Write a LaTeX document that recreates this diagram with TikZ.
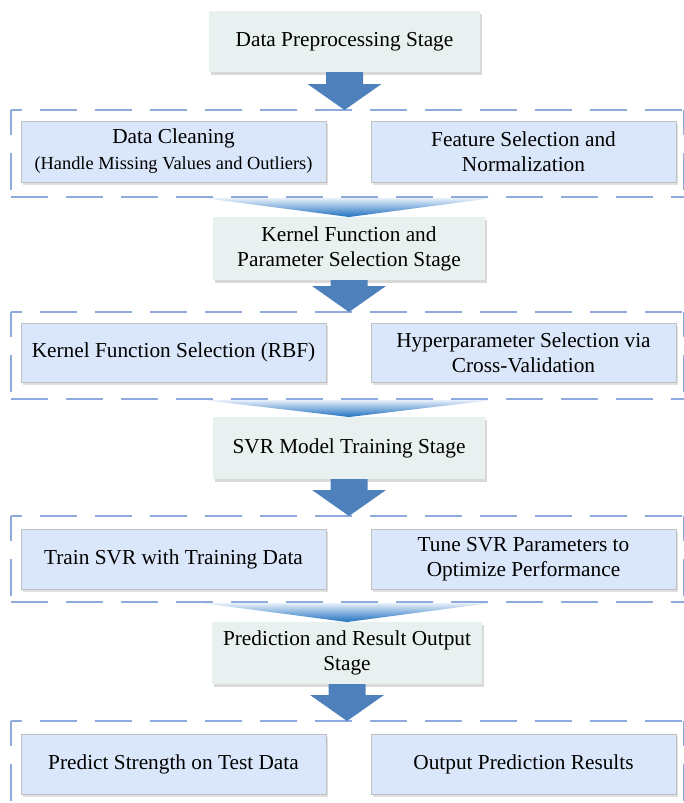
\documentclass[tikz,border=0pt]{standalone}
\usepackage{fontspec}
\setmainfont{Liberation Serif}
\usetikzlibrary{calc,shadows}
\definecolor{stagefill}{RGB}{232,241,239}
\definecolor{itemfill}{RGB}{218,230,250}
\definecolor{itemline}{RGB}{192,192,192}
\definecolor{dashblue}{RGB}{143,170,220}
\definecolor{arrowblue}{RGB}{78,129,187}
\definecolor{funneltop}{RGB}{232,240,250}
\definecolor{funnelmid}{RGB}{150,190,230}
\definecolor{funnelbot}{RGB}{30,112,192}
\newcommand\stagearrow[2]{%
  \fill[arrowblue] let \p1=(#1), \p2=(#2) in
    (\x1-18.5pt,\y1) -- (\x1+18.5pt,\y1) -- (\x1+18.5pt,\y2+26pt) -- (\x1+37pt,\y2+26pt)
    -- (\x1,\y2) -- (\x1-37pt,\y2+26pt) -- (\x1-18.5pt,\y2+26pt) -- cycle;}
\newcommand\stagefunnel[2]{%
  \shade[top color=funneltop, middle color=funnelmid, bottom color=funnelbot]
    let \p1=(#1), \p2=(#2) in
    (\x2-146pt,\y1-1pt) -- (\x2+144pt,\y1-1pt) -- (\p2) -- cycle;}
\newcommand\groupdashes[1]{%
  \draw[dashline, dash phase=26pt] (#1.north west) -- (#1.north east);
  \draw[dashline] (#1.south west) -- (#1.south east);
  \draw[dashline, dash phase=12pt] (#1.north west) -- (#1.south west);
  \draw[dashline, dash phase=12pt] (#1.north east) -- (#1.south east);}
\tikzset{
  mainfont/.style={font=\fontsize{21.3}{25}\selectfont},
  stagebox/.style={mainfont, fill=stagefill, draw=none, minimum width=272pt,
    inner sep=0pt, outer sep=0pt, align=center,
    drop shadow={shadow xshift=2pt, shadow yshift=-3pt, opacity=0.15, fill=black}},
  itembox/.style={mainfont, fill=itemfill, draw=itemline, line width=1pt,
    minimum width=305pt, minimum height=60pt, inner sep=0pt, outer sep=0pt, align=center,
    drop shadow={shadow xshift=2pt, shadow yshift=-2.5pt, opacity=0.12, fill=black}},
  groupbox/.style={draw=none, minimum width=673pt, inner sep=0pt, outer sep=0pt},
  dashline/.style={draw=dashblue, line width=2.5pt, dash pattern=on 37pt off 18pt},
}
\begin{document}
\begin{tikzpicture}[x=1pt,y=-1pt]
\useasboundingbox (0,0) rectangle (684,803);
\clip (0,0) rectangle (684,803);
% group boxes (dashed)
\node[groupbox, minimum height=87pt] (d1) at (347.5,153.5) {};
\node[groupbox, minimum height=87pt] (d2) at (347.5,355.5) {};
\node[groupbox, minimum height=86pt] (d3) at (347.5,559) {};
\node[groupbox, minimum height=87pt] (d4) at (347.5,764.5) {};
\groupdashes{d1}
\groupdashes{d2}
\groupdashes{d3}
\groupdashes{d4}
% stage boxes
\node[stagebox, minimum width=271pt, minimum height=61pt] (s1) at (344.5,41.5) {Data Preprocessing Stage};
\node[stagebox, minimum height=63pt] (s2) at (349,248.5) {Kernel Function and\\Parameter Selection Stage};
\node[stagebox, minimum height=62pt] (s3) at (349,448) {SVR Model Training Stage};
\node[stagebox, minimum width=270pt, minimum height=62pt] (s4) at (347,653) {Prediction and Result Output\\Stage};
% item boxes
\node[itembox, minimum height=61pt] (a1) at (173.5,151.5) {Data Cleaning\\[1pt]{\fontsize{18.4}{22}\selectfont (Handle Missing Values and Outliers)}};
\node[itembox, minimum height=61pt] (b1) at (523.5,151.5) {Feature Selection and\\Normalization};
\node[itembox, minimum height=59pt] (a2) at (173.5,352.5) {Kernel Function Selection (RBF)};
\node[itembox, minimum height=59pt] (b2) at (523.5,352.5) {Hyperparameter Selection via\\Cross-Validation};
\node[itembox] (a3) at (173.5,559) {Train SVR with Training Data};
\node[itembox] (b3) at (523.5,559) {Tune SVR Parameters to\\Optimize Performance};
\node[itembox] (a4) at (173.5,764) {Predict Strength on Test Data};
\node[itembox] (b4) at (523.5,764) {Output Prediction Results};
% arrows from stages to groups
\stagearrow{s1.south}{s1.south |- d1.north}
\stagearrow{s2.south}{s2.south |- d2.north}
\stagearrow{s3.south}{s3.south |- d3.north}
\stagearrow{s4.south}{s4.south |- d4.north}
% funnels from groups to next stages
\stagefunnel{d1.south}{s2.north}
\stagefunnel{d2.south}{s3.north}
\stagefunnel{d3.south}{s4.north}
\end{tikzpicture}
\end{document}
